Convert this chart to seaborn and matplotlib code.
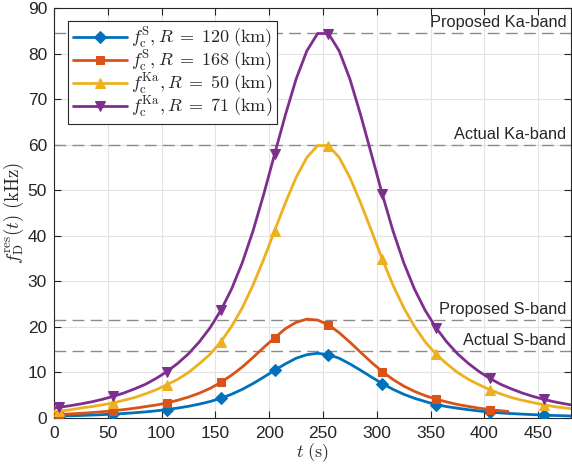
import matplotlib
matplotlib.use("Agg")
import matplotlib.pyplot as plt
import seaborn as sns
import pandas as pd

# ---------------- data ----------------
t_grid = [0] + list(range(5, 480, 10)) + [480]
t_orange = [0] + list(range(5, 420, 10)) + [422]

blue_S120 = [0.39, 0.42, 0.49, 0.55, 0.64, 0.74, 0.86, 0.99, 1.16, 1.34, 1.58,
             1.85, 2.19, 2.57, 3.05, 3.61, 4.33, 5.21, 6.30, 7.57, 8.99, 10.47,
             11.87, 13.12, 13.90, 14.20, 13.90, 13.12, 11.87, 10.47, 8.99, 7.57,
             6.30, 5.21, 4.33, 3.61, 2.95, 2.50, 2.15, 1.82, 1.55, 1.28, 1.12,
             0.97, 0.85, 0.74, 0.64, 0.55, 0.49, 0.45]

orange_S168 = [0.72, 0.78, 0.90, 1.03, 1.18, 1.38, 1.60, 1.85, 2.15, 2.50, 2.85,
               3.30, 3.90, 4.60, 5.45, 6.50, 7.80, 9.40, 11.20, 13.30, 15.50,
               17.60, 19.60, 21.00, 21.70, 21.50, 20.46, 18.73, 16.64, 14.41,
               12.22, 10.20, 8.46, 7.01, 5.84, 4.90, 4.14, 3.52, 2.97, 2.54,
               2.16, 1.86, 1.59, 1.45]

yellow_Ka50 = [1.40, 1.50, 1.80, 2.20, 2.50, 2.90, 3.30, 3.90, 4.50, 5.30, 6.20,
               7.30, 8.50, 10.0, 11.9, 14.0, 16.7, 20.1, 24.2, 29.2, 34.9, 41.1,
               47.2, 52.8, 57.2, 59.8, 59.8, 57.2, 52.8, 47.2, 41.1, 34.9, 29.2,
               24.2, 20.1, 16.7, 14.0, 11.9, 10.0, 8.5, 7.3, 6.2, 5.3, 4.5, 3.9,
               3.4, 2.9, 2.5, 2.2, 2.05]

purple_Ka71 = [2.20, 2.35, 2.70, 3.10, 3.55, 4.10, 4.75, 5.50, 6.40, 7.40, 8.70,
               10.2, 12.0, 14.1, 16.7, 19.8, 23.6, 28.3, 34.1, 41.1, 49.2, 57.9,
               66.5, 74.4, 80.6, 84.4, 84.4, 80.6, 74.4, 66.5, 57.9, 49.2, 41.1,
               34.1, 28.3, 23.6, 19.8, 16.7, 14.1, 12.0, 10.2, 8.7, 7.4, 6.4,
               5.5, 4.75, 4.1, 3.55, 3.1, 2.9]

series_labels = [r'$f_{\mathrm{c}}^{\mathrm{S}}, R\;=\;120\ (\mathrm{km})$',
                 r'$f_{\mathrm{c}}^{\mathrm{S}}, R\;=\;168\ (\mathrm{km})$',
                 r'$f_{\mathrm{c}}^{\mathrm{Ka}}, R\;=\;50\ (\mathrm{km})$',
                 r'$f_{\mathrm{c}}^{\mathrm{Ka}}, R\;=\;71\ (\mathrm{km})$']
series_colors = ['#0072BD', '#D95319', '#EDB120', '#7E2F8E']
series_markers = ['D', 's', '^', 'v']

band_labels = ['Proposed Ka-band', 'Actual Ka-band', 'Proposed S-band', 'Actual S-band']
band_values = [84.5, 60.0, 21.5, 14.7]

x_ticks = [0, 50, 100, 150, 200, 250, 300, 350, 400, 450]
y_ticks = [0, 10, 20, 30, 40, 50, 60, 70, 80, 90]

# ---------------- style ----------------
sns.set_style("ticks")
plt.rcParams['font.family'] = ['Liberation Sans', 'DejaVu Sans']
plt.rcParams['mathtext.fontset'] = 'cm'

fig = plt.figure(figsize=(5.72, 4.66), dpi=100)
W, H = 572, 466
ax = fig.add_axes([54 / W, 48 / H, (570.5 - 54) / W, (418 - 8) / H])

ax.set_xlim(0, 480)
ax.set_ylim(0, 90)
ax.set_xticks(x_ticks)
ax.set_yticks(y_ticks)
ax.grid(True, color='#e3e3e3', linewidth=0.8)
ax.set_axisbelow(True)

# reference bands
for lab, val in zip(band_labels, band_values):
    ax.axhline(val, color='#8c8c8c', linewidth=1.0, linestyle=(0, (8.5, 4.5)), zorder=1.5)
    ax.annotate(lab, xy=(476, val), xytext=(0, 2), textcoords='offset points',
                ha='right', va='bottom', fontsize=11.8, color='#262626')

all_series = [(t_grid, blue_S120), (t_orange, orange_S168),
              (t_grid, yellow_Ka50), (t_grid, purple_Ka71)]
for (tt, vals), lab, col, mk in zip(all_series, series_labels, series_colors, series_markers):
    df = pd.DataFrame({'t': tt, 'f': vals})
    idx = [i for i, tv in enumerate(tt) if tv % 50 == 5]
    ms = {'D': 6.5, 's': 6.0, '^': 7.5, 'v': 7.5}[mk]
    sns.lineplot(data=df, x='t', y='f', ax=ax, color=col, linewidth=2.0,
                 marker=mk, markersize=ms, markevery=idx, markeredgecolor=col,
                 markerfacecolor=col, label=lab, zorder=3, sort=False)

for s in ax.spines.values():
    s.set_visible(True)
    s.set_color('#262626')
    s.set_linewidth(0.8)
ax.tick_params(direction='in', top=True, right=True, length=5, width=0.8,
               colors='#262626', labelsize=12.5)
ax.tick_params(axis='x', pad=6)
ax.tick_params(axis='y', pad=5)

ax.set_xlabel(r'$t\ (\mathrm{s})$', fontsize=13, color='#262626', labelpad=0)
ax.set_ylabel(r'$f_{\mathrm{D}}^{\mathrm{res}}(t)\ (\mathrm{kHz})$', fontsize=13.5,
              color='#262626', labelpad=1)

leg = ax.legend(loc='upper left', bbox_to_anchor=(14 / 516.5, 1 - 13 / 410),
                borderaxespad=0, fontsize=13, frameon=True, fancybox=False,
                edgecolor='#262626', framealpha=1, handlelength=3.0,
                handletextpad=0.25, borderpad=0.25, labelspacing=-0.12)
leg.get_frame().set_linewidth(0.8)

fig.savefig('out.png', dpi=100)
